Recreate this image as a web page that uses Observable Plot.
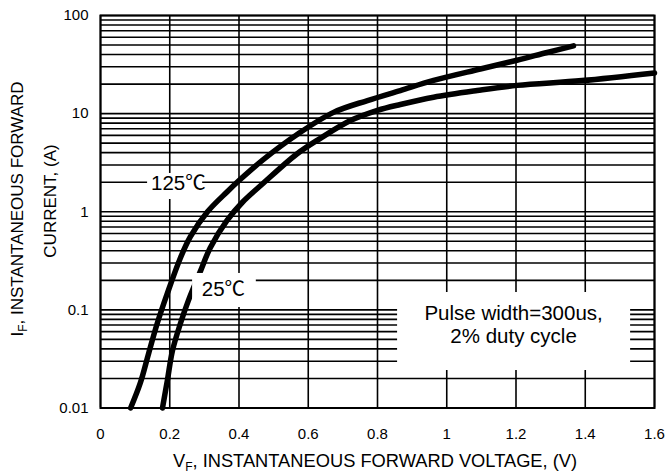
<!DOCTYPE html>
<html>
<head>
<meta charset="utf-8">
<script src="https://cdn.jsdelivr.net/npm/d3@7"></script>
<script src="https://cdn.jsdelivr.net/npm/@observablehq/plot@0.6"></script>
<style>
  html, body { margin: 0; padding: 0; background: white; }
</style>
</head>
<body>
<div id="chart"></div>
<script>
// ---- data ----
const xTicks = [0, 0.2, 0.4, 0.6, 0.8, 1, 1.2, 1.4, 1.6];
const xTickLabels = ["0", "0.2", "0.4", "0.6", "0.8", "1", "1.2", "1.4", "1.6"];
const yTicks = [0.01, 0.1, 1, 10, 100];
const yTickLabels = ["0.01", "0.1", "1", "10", "100"];
const gridMultipliers = [1, 2, 3, 4, 5, 6, 7, 8, 9];

const v125 = [0.087, 0.115, 0.139, 0.164, 0.193, 0.231, 0.26, 0.309, 0.366, 0.40, 0.47, 0.57, 0.673, 0.771, 0.866, 0.962, 1.097, 1.203, 1.29, 1.366];
const i125 = [0.01, 0.018, 0.036, 0.073, 0.147, 0.34, 0.56, 1.0, 1.6, 2.08, 3.4, 6.2, 10.3, 13.6, 17.2, 21.8, 28.5, 35, 42, 49];

const v25 = [0.179, 0.193, 0.208, 0.231, 0.254, 0.289, 0.317, 0.366, 0.41, 0.47, 0.568, 0.635, 0.722, 0.8, 0.866, 0.962, 1.088, 1.203, 1.39, 1.6];
const i25 = [0.01, 0.019, 0.0386, 0.073, 0.125, 0.25, 0.43, 0.82, 1.25, 1.95, 3.9, 5.6, 8.5, 10.8, 12.4, 14.7, 17.2, 19.4, 21.7, 26];

// annotation boxes (data units) and labels
const boxX1 = [0.136, 0.266, 0.858];
const boxX2 = [0.295, 0.45, 1.531];
const boxY1 = [1.333, 0.1057, 0.0241];
const boxY2 = [2.455, 0.235, 0.1503];
const labelText = ["125\u2103", "25\u2103", "Pulse width=300us,\n2% duty cycle"];
const labelX = [0.225, 0.355, 1.193];
const labelY = [2.0, 0.163, 0.0718];

// ---- build tables ----
const yGrid = yTicks.slice(0, -1).flatMap(d => gridMultipliers.map(m => d * m)).concat([yTicks[yTicks.length - 1]]);
const curve125 = v125.map((v, k) => ({v, i: i125[k]}));
const curve25 = v25.map((v, k) => ({v, i: i25[k]}));
const boxes = boxX1.map((x1, k) => ({x1, x2: boxX2[k], y1: boxY1[k], y2: boxY2[k]}));
const labels = labelText.map((t, k) => ({t, x: labelX[k], y: labelY[k]}));

const FONT = "'Liberation Sans', Arial, 'Noto Sans CJK SC', sans-serif";

const chart = Plot.plot({
  width: 669,
  height: 474,
  marginTop: 15,
  marginRight: 15,
  marginBottom: 66.5,
  marginLeft: 100,
  style: {fontFamily: FONT, fontSize: "15px", color: "black", background: "white", overflow: "visible"},
  x: {
    domain: [0, 1.6],
    ticks: xTicks,
    tickFormat: d => xTickLabels[xTicks.findIndex(t => Math.abs(t - d) < 1e-9)],
    tickSize: 0,
    tickPadding: 20,
    label: null
  },
  y: {
    type: "log",
    domain: [0.01, 100],
    ticks: yTicks,
    tickFormat: d => yTickLabels[yTicks.findIndex(t => Math.abs(t - d) < 1e-12)],
    tickSize: 0,
    tickPadding: 12,
    label: null
  },
  marks: [
    Plot.ruleY(yGrid, {stroke: "black", strokeWidth: 1.6}),
    Plot.ruleX(xTicks, {stroke: "black", strokeWidth: 1.6}),
    Plot.line(curve125, {x: "v", y: "i", stroke: "black", strokeWidth: 5.5, curve: "catmull-rom", strokeLinecap: "round"}),
    Plot.line(curve25, {x: "v", y: "i", stroke: "black", strokeWidth: 5.5, curve: "catmull-rom", strokeLinecap: "round"}),
    Plot.rect(boxes, {x1: "x1", x2: "x2", y1: "y1", y2: "y2", fill: "white"}),
    Plot.text(labels, {x: "x", y: "y", text: "t", fontSize: 20.5, fill: "black", lineHeight: 1.13}),
    Plot.frame({stroke: "black", strokeWidth: 2})
  ]
});

document.getElementById("chart").appendChild(chart);

// axis titles with subscripts
const svg = d3.select(chart);
const xl = svg.append("text")
  .attr("x", 375).attr("y", 467)
  .attr("text-anchor", "middle")
  .style("font-family", FONT).style("font-size", "18.3px").attr("fill", "black");
xl.append("tspan").text("V");
xl.append("tspan").attr("dy", 4).style("font-size", "12px").text("F");
xl.append("tspan").attr("dy", -4).text(", INSTANTANEOUS FORWARD VOLTAGE, (V)");

const yl1 = svg.append("text")
  .attr("transform", "translate(23,209) rotate(-90)")
  .attr("text-anchor", "middle")
  .style("font-family", FONT).style("font-size", "17px").attr("fill", "black");
yl1.append("tspan").text("I");
yl1.append("tspan").attr("dy", 4).style("font-size", "12px").text("F");
yl1.append("tspan").attr("dy", -4).text(", INSTANTANEOUS FORWARD");

svg.append("text")
  .attr("transform", "translate(56,201) rotate(-90)")
  .attr("text-anchor", "middle")
  .style("font-family", FONT).style("font-size", "17px").attr("fill", "black")
  .text("CURRENT, (A)");
</script>
</body>
</html>
